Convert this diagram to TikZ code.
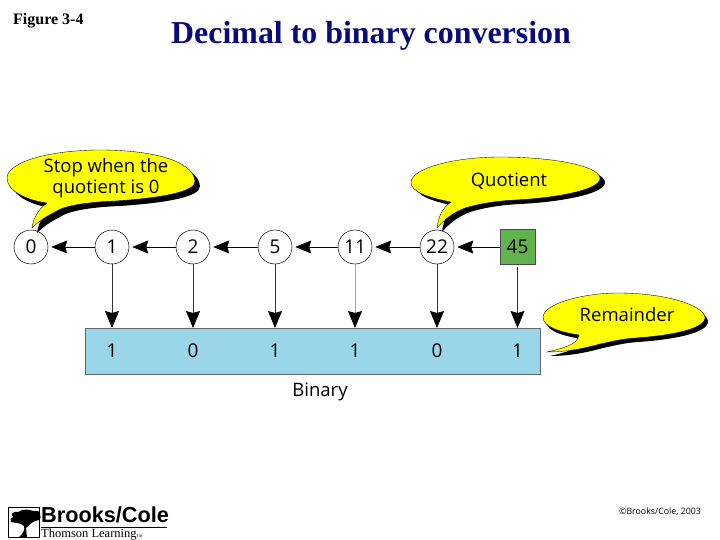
\documentclass[tikz,border=0pt]{standalone}
\usepackage{fontspec}
\setmainfont{Liberation Serif}
\newfontfamily\bodyfont{Open Sans}
\newfontfamily\logofont{Liberation Sans}
\usetikzlibrary{arrows.meta,calc}
\definecolor{titleblue}{HTML}{0A0A78}
\definecolor{barblue}{HTML}{9AD6E8}
\definecolor{sqgreen}{HTML}{62B34F}
\definecolor{bubyellow}{HTML}{FFFF00}
\tikzset{
 qcircle/.style={circle,draw=black,line width=0.5pt,fill=white,minimum size=34pt,inner sep=0pt,font=\bodyfont\fontsize{19}{19}\selectfont},
 qsquare/.style={rectangle,draw=black!70,line width=0.7pt,fill=sqgreen,minimum size=35pt,inner sep=0pt,font=\bodyfont\fontsize{19}{19}\selectfont},
 bitlabel/.style={inner sep=0pt,font=\bodyfont\fontsize{19}{19}\selectfont},
 bartext/.style={inner sep=0pt,align=center,font=\bodyfont\fontsize{18.5}{21}\selectfont},
 flow/.style={-{Stealth[length=16pt,width=13pt,inset=2pt]},line width=0.7pt,black,shorten >=3pt},
 down/.style={-{Stealth[length=17pt,width=14pt,inset=2pt,black]},line width=0.7pt,draw=black!80},
 bubshadow/.style={fill=black,draw=none},
 bubfill/.style={fill=bubyellow,draw=black,line width=0.35pt},
 digitdrop/.style={text depth=1.5pt},
}
\begin{document}
\begin{tikzpicture}[x=1pt,y=-1pt]
\useasboundingbox (0,0) rectangle (720,540);
\fill[white] (0,0) rectangle (720,540);

\node[anchor=west,inner sep=0pt,font=\bfseries\fontsize{16}{16}\selectfont] (fig) at (13,21) {Figure 3-4};
\node[anchor=west,inner sep=0pt,text=titleblue,font=\bfseries\fontsize{31.9}{32}\selectfont] (title) at (171,36) {Decimal to binary conversion};

% bar
\node[draw=black!60,line width=0.6pt,fill=barblue,minimum width=455pt,minimum height=46pt,inner sep=0pt,anchor=north west] (bar) at (85,328) {};

% nodes
\node[qcircle] (q0) at (31,247) {\raisebox{-1.5pt}{0}};
\node[qcircle] (q1) at (112,247) {\raisebox{-1.5pt}{1}};
\node[qcircle] (q2) at (193,247) {\raisebox{-1.5pt}{2}};
\node[qcircle] (q5) at (275,247) {\raisebox{-1.5pt}{5}};
\node[qcircle] (q11) at (355,247) {\raisebox{-1.5pt}{11}};
\node[qcircle] (q22) at (437,247) {\raisebox{-1.5pt}{22}};
\node[qsquare] (q45) at (517.5,247) {\raisebox{-1.5pt}{45}};

% bits
\node[bitlabel] (b1) at (112,351) {1};
\node[bitlabel] (b2) at (193,351) {0};
\node[bitlabel] (b5) at (275,351) {1};
\node[bitlabel] (b11) at (355,351) {1};
\node[bitlabel] (b22) at (437,351) {0};
\node[bitlabel] (b45) at (517.5,351) {1};
\node[bartext] (binary) at (320,392) {Binary};

% horizontal
\draw[flow] (q1) -- (q0);
\draw[flow] (q2) -- (q1);
\draw[flow] (q5) -- (q2);
\draw[flow] (q11) -- (q5);
\draw[flow] (q22) -- (q11);
\draw[flow] (q45) -- (q22);

% vertical
\draw[down] (q1) -- (q1 |- bar.north);
\draw[down] (q2) -- (q2 |- bar.north);
\draw[down] (q5) -- (q5 |- bar.north);
\draw[down,draw=black!35] (q11) -- (q11 |- bar.north);
\draw[down] (q22) -- (q22 |- bar.north);
\draw[down,shorten <=2pt] (q45) -- (q45 |- bar.north);

% bubble 1
\def\bubA{(7,177) .. controls (10,160) and (55,150) .. (100,150) .. controls (150,150) and (193,160) .. (195,181) .. controls (196,192) and (160,198) .. (115,201) .. controls (90,202) and (65,205) .. (55,212) .. controls (45,217) and (38,222) .. (32,228) .. controls (33,220) and (37,210) .. (47,203) .. controls (25,200) and (6,190) .. (7,177) -- cycle}
\fill[bubshadow,shift={(5,5)}] \bubA;
\draw[bubfill] \bubA;
\node[bartext] (stoptext) at (106,178) {Stop when the\\quotient is 0};

% bubble 2
\def\bubB{(411,182) .. controls (412,168) and (455,157) .. (500,157) .. controls (550,157) and (598,165) .. (600,178) .. controls (601,190) and (555,198) .. (515,200) .. controls (495,201) and (478,204) .. (465,208) .. controls (452,213) and (444,220) .. (437,228) .. controls (438,218) and (442,208) .. (451,202) .. controls (430,198) and (410,192) .. (411,182) -- cycle}
\fill[bubshadow,shift={(5,4)}] \bubB;
\draw[bubfill] \bubB;
\node[bartext] (quottext) at (509,181) {Quotient};

% bubble 3
\def\bubC{(543,317) .. controls (544,303) and (585,293) .. (618,293) .. controls (665,293) and (703,305) .. (705,317) .. controls (706,330) and (665,336) .. (635,338) .. controls (620,339) and (610,342) .. (600,344) .. controls (582,349) and (565,352) .. (547,352) .. controls (560,349) and (578,345) .. (579,335) .. controls (560,332) and (543,327) .. (543,317) -- cycle}
\fill[bubshadow,shift={(3,4)}] \bubC;
\draw[bubfill] \bubC;
\node[bartext] (remtext) at (627,315) {Remainder};

% logo
\node[draw=black,line width=1pt,minimum width=31pt,minimum height=30pt,inner sep=0pt,anchor=north west] (logobox) at (8,507) {};
\fill[black] (19,537) .. controls (24,533) and (25,529) .. (24,526) .. controls (21,523) and (16,523) .. (11,522) .. controls (9,520) and (11,517) .. (13,517) .. controls (10,514) and (13,511) .. (18,512) .. controls (22,509) and (30,509) .. (33,511) .. controls (38,510) and (41,512) .. (40,515) .. controls (42,518) and (39,521) .. (35,521) .. controls (31,523) and (29,525) .. (26,528) -- (27,537) -- cycle;
\node[anchor=west,inner sep=0pt,font=\logofont\bfseries\fontsize{21.7}{21.7}\selectfont] (logotext) at (41,515) {Brooks/Cole};
\draw[black,line width=1pt] (41,527) -- (167,527);
\node[anchor=west,inner sep=0pt,font=\fontsize{12.5}{12.5}\selectfont] (logosub) at (41,534.5) {Thomson Learning\raisebox{-0.5pt}{\fontsize{4}{4}\selectfont TM}};

\node[anchor=west,inner sep=0pt,font=\bodyfont\fontsize{8.8}{8.8}\selectfont] (copy) at (619,512) {©Brooks/Cole, 2003};
\end{tikzpicture}
\end{document}
